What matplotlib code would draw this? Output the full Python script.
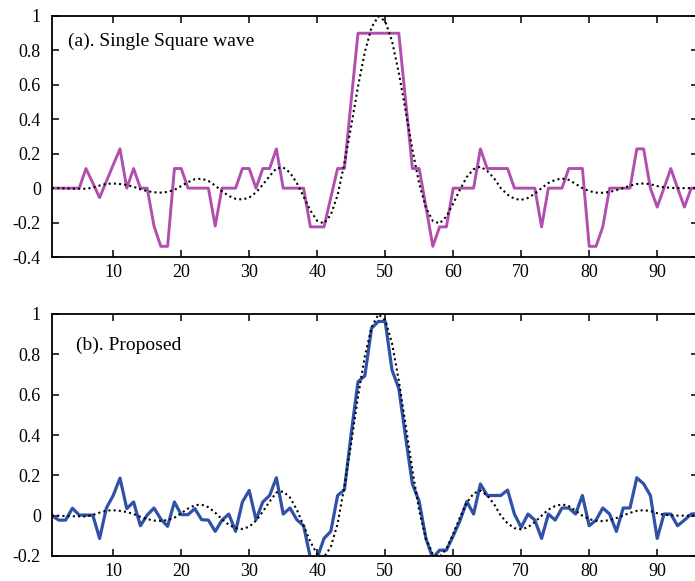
import matplotlib
matplotlib.use("Agg")
import matplotlib.pyplot as plt
from matplotlib.ticker import FuncFormatter

plt.rcParams['font.family'] = ['Liberation Serif', 'DejaVu Serif']
plt.rcParams['axes.unicode_minus'] = False

x = list(range(1, 97))

square_wave = [0, 0, 0, 0, 0, 0.114, 0.03, -0.055, 0.04, 0.135,
               0.228, 0, 0.114, 0, 0, -0.22, -0.338, -0.338, 0.114, 0.114,
               0, 0, 0, 0, -0.22, 0, 0, 0, 0.114, 0.114,
               0, 0.114, 0.114, 0.228, 0, 0, 0, 0, -0.225, -0.225,
               -0.225, -0.055, 0.114, 0.114, 0.51, 0.9, 0.9, 0.9, 0.9, 0.9,
               0.9, 0.9, 0.51, 0.114, 0.114, -0.11, -0.338, -0.225, -0.225, 0,
               0, 0, 0, 0.228, 0.114, 0.114, 0.114, 0.114, 0, 0,
               0, 0, -0.225, 0, 0, 0, 0.114, 0.114, 0.114, -0.338,
               -0.338, -0.225, 0, 0, 0, 0, 0.228, 0.228, 0, -0.11,
               0, 0.114, 0, -0.11, 0, 0]

proposed = [0.0, -0.022, -0.022, 0.037, 0.003, 0.003, 0.003, -0.113, 0.038, 0.10,
            0.186, 0.035, 0.068, -0.05, 0.003, 0.038, -0.017, -0.053, 0.068, 0.005,
            0.005, 0.035, -0.02, -0.022, -0.078, -0.022, 0.008, -0.078, 0.068, 0.125,
            -0.02, 0.068, 0.10, 0.188, 0.008, 0.038, -0.02, -0.05, -0.21, -0.21,
            -0.113, -0.078, 0.10, 0.128, 0.407, 0.664, 0.693, 0.93, 0.963, 0.963,
            0.722, 0.631, 0.39, 0.157, 0.07, -0.115, -0.21, -0.171, -0.171, -0.10,
            -0.025, 0.07, 0.008, 0.157, 0.10, 0.10, 0.10, 0.127, 0.008, -0.058,
            0.008, -0.022, -0.113, 0.008, -0.022, 0.038, 0.038, 0.008, 0.10, -0.05,
            -0.022, 0.038, 0.008, -0.078, 0.038, 0.038, 0.188, 0.158, 0.10, -0.113,
            0.008, 0.008, -0.05, -0.022, 0.008, 0.01]

ideal = [0.0, 0.0, -0.002, -0.003, -0.003, -0.004, 0.003, 0.015, 0.025, 0.027,
         0.024, 0.018, 0.008, -0.006, -0.017, -0.024, -0.026, -0.022, -0.01, 0.012,
         0.035, 0.052, 0.055, 0.042, 0.015, -0.018, -0.045, -0.062, -0.066, -0.055,
         -0.025, 0.02, 0.07, 0.115, 0.12, 0.09, 0.03, -0.05, -0.13, -0.19,
         -0.205, -0.155, -0.04, 0.145, 0.36, 0.59, 0.79, 0.935, 0.998, 0.97,
         0.855, 0.67, 0.45, 0.225, 0.025, -0.115, -0.19, -0.205, -0.165, -0.09,
         -0.008, 0.065, 0.11, 0.125, 0.10, 0.058, 0.0, -0.038, -0.062, -0.068,
         -0.057, -0.032, 0.0, 0.03, 0.048, 0.056, 0.048, 0.025, 0.0, -0.017,
         -0.026, -0.027, -0.022, -0.012, 0.001, 0.014, 0.024, 0.027, 0.023, 0.012,
         0.004, 0.002, 0.0, 0.0, 0.0, 0.0]

xticks = [10, 20, 30, 40, 50, 60, 70, 80, 90]
yticks_a = [-0.4, -0.2, 0, 0.2, 0.4, 0.6, 0.8, 1]
yticks_b = [-0.2, 0, 0.2, 0.4, 0.6, 0.8, 1]

W, H = 695, 581
fig = plt.figure(figsize=(W / 100, H / 100), dpi=100)

def px_axes(left, top, right, bottom):
    return fig.add_axes([left / W, 1 - bottom / H, (right - left) / W, (bottom - top) / H])

ax1 = px_axes(52, 16, 698, 257)
ax2 = px_axes(52, 314, 698, 556)

fmt = FuncFormatter(lambda v, p: ('%g' % round(v, 2)))

for ax, yt, ylim in ((ax1, yticks_a, (-0.4, 1)), (ax2, yticks_b, (-0.2, 1))):
    ax.set_xlim(1, 96)
    ax.set_ylim(*ylim)
    ax.set_xticks(xticks)
    ax.set_yticks(yt)
    ax.yaxis.set_major_formatter(fmt)
    ax.tick_params(direction='in', length=5, width=1.1, top=True, right=True,
                   labelsize=13, pad=8, colors='black')
    ax.tick_params(axis='x', pad=5)
    for s in ax.spines.values():
        s.set_linewidth(1.3)

ax1.plot(x, square_wave, color='#B24FAE', lw=2.1, zorder=2)
ax1.plot(x, ideal, color='black', lw=1.5, linestyle=(0, (1, 1.5)), zorder=3)
ax1.text(3.3, 0.85, '(a). Single Square wave', fontsize=14, va='center', ha='left')

ax2.plot(x, proposed, color='#2F52A8', lw=2.3, zorder=2)
ax2.plot(x, ideal, color='black', lw=1.5, linestyle=(0, (1, 1.5)), zorder=3)
ax2.text(4.5, 0.846, '(b). Proposed', fontsize=14, va='center', ha='left')

fig.savefig('out.png', dpi=100)
